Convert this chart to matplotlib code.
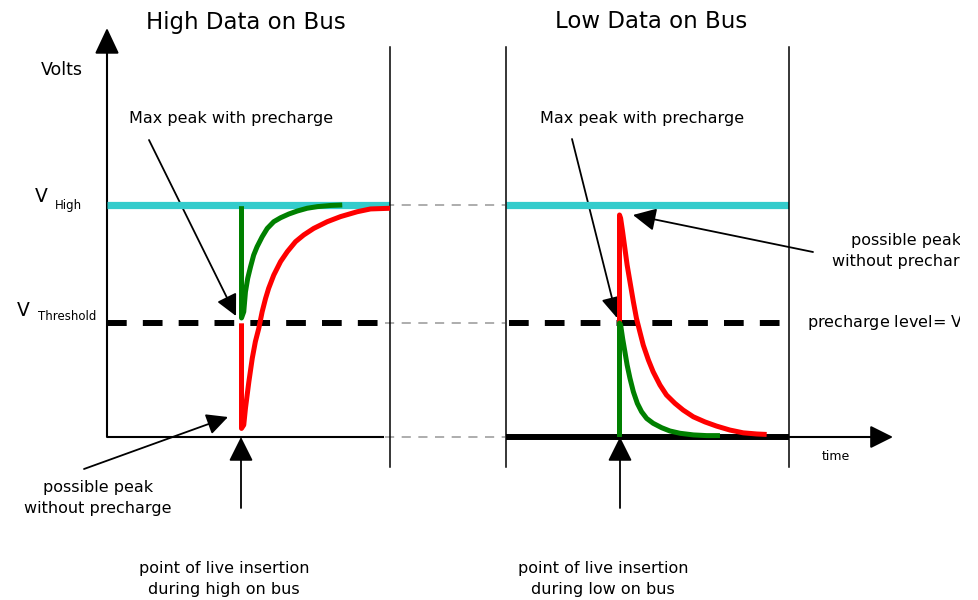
import matplotlib
matplotlib.use("Agg")
import matplotlib.pyplot as plt

plt.rcParams['font.family'] = ['DejaVu Sans']

# ---------------- data (time units relative to insertion, volts normalised: 0 = low, 1 = V_high)
V_HIGH = 1.0
V_THRESH = 0.49
V_LOW = 0.0

# High data on bus
hi_green_t = [0.0, 0.0, 0.08, 0.14, 0.22, 0.32, 0.43, 0.55, 0.73, 0.91, 1.14, 1.38, 1.67,
              1.97, 2.32, 2.68, 3.15, 3.56]
hi_green_v = [0.995, 0.513, 0.540, 0.626, 0.684, 0.734, 0.784, 0.820, 0.863, 0.899, 0.928,
              0.945, 0.961, 0.974, 0.986, 0.993, 0.998, 1.0]
hi_red_t = [0.0, 0.0, 0.08, 0.14, 0.26, 0.38, 0.49, 0.61, 0.73, 0.85, 0.96, 1.14, 1.38, 1.62,
            1.91, 2.20, 2.55, 3.03, 3.50, 4.09, 4.56, 5.27]
hi_red_v = [0.49, 0.037, 0.052, 0.124, 0.238, 0.339, 0.411, 0.468, 0.540, 0.597, 0.641, 0.698,
            0.756, 0.799, 0.842, 0.871, 0.899, 0.928, 0.950, 0.971, 0.983, 0.986]

# Low data on bus
lo_red_t = [0.0, 0.0, 0.04, 0.11, 0.19, 0.27, 0.37, 0.49, 0.60, 0.72, 0.84, 1.02, 1.19, 1.43,
            1.66, 1.96, 2.25, 2.61, 3.02, 3.43, 3.90, 4.37, 4.85, 5.20]
lo_red_v = [0.49, 0.957, 0.943, 0.885, 0.813, 0.741, 0.669, 0.583, 0.511, 0.453, 0.396, 0.332,
            0.281, 0.224, 0.181, 0.145, 0.116, 0.087, 0.065, 0.047, 0.030, 0.018, 0.013, 0.011]
lo_green_t = [0.0, 0.0, 0.04, 0.11, 0.19, 0.27, 0.37, 0.49, 0.63, 0.78, 0.96, 1.19, 1.49, 1.78,
              2.14, 2.61, 3.08, 3.55]
lo_green_v = [0.0, 0.491, 0.483, 0.425, 0.368, 0.310, 0.253, 0.195, 0.145, 0.109, 0.080, 0.059,
              0.040, 0.026, 0.016, 0.009, 0.006, 0.006]

titles = ["High Data on Bus", "Low Data on Bus"]

RED = '#ff0000'
GREEN = '#008000'
CYAN = '#33cccc'
GRAY = '#a0a0a0'

W, H = 979, 600
fig = plt.figure(figsize=(W / 100, H / 100), dpi=100)

# canvas axes in pixel coordinates (clipped at x=960 like the reference)
cv = fig.add_axes([0, 0, 960 / W, 1])
cv.set_xlim(0, 960)
cv.set_ylim(H, 0)
cv.axis('off')

PX_PER_T = 28.3
PX_PER_V = 232.0
Y0 = 437  # pixel row of 0 V


def panel(x_left, x_right, x_ins):
    ax = fig.add_axes([x_left / W, (H - 467) / H, (x_right - x_left) / W, 420 / H])
    ax.set_xlim((x_left - x_ins) / PX_PER_T, (x_right - x_ins) / PX_PER_T)
    ax.set_ylim((Y0 - 467) / PX_PER_V, (Y0 - 47) / PX_PER_V)
    ax.set_xticks([])
    ax.set_yticks([])
    ax.patch.set_alpha(0)
    for s in ['top', 'bottom']:
        ax.spines[s].set_visible(False)
    for s in ['left', 'right']:
        ax.spines[s].set_linewidth(1.1)
    return ax


XL_INS, XR_INS = 241.5, 619.5
axL = panel(107, 390, XL_INS)
axR = panel(506, 789, XR_INS)
axL.spines['left'].set_visible(False)

curve_kw = dict(lw=3.6, solid_capstyle='butt', solid_joinstyle='round')
dash_kw = dict(color='black', lw=4.3, linestyle=(0, (3.3, 2.7)), solid_capstyle='butt',
               dash_capstyle='butt')

# ---- left panel
x0, x1 = axL.get_xlim()
axL.plot([x0, x1], [V_HIGH, V_HIGH], color=CYAN, lw=5.2, solid_capstyle='butt', zorder=2)
axL.plot([x0, (380 - XL_INS) / PX_PER_T], [V_THRESH, V_THRESH], zorder=3, **dash_kw)
axL.plot([x0, (383 - XL_INS) / PX_PER_T], [V_LOW, V_LOW], color='black', lw=1.5, zorder=2)
axL.plot(hi_green_t, hi_green_v, color=GREEN, zorder=4, **curve_kw)
axL.plot(hi_red_t, hi_red_v, color=RED, zorder=4, **curve_kw)
for v in [V_HIGH, V_THRESH, V_LOW]:
    axL.plot([(385 - XL_INS) / PX_PER_T, (505 - XL_INS) / PX_PER_T], [v, v], color=GRAY, lw=1.2,
             linestyle=(0, (5.5, 4.5)), clip_on=False, zorder=1)

# ---- right panel
x0, x1 = axR.get_xlim()
axR.plot([x0, x1], [V_HIGH, V_HIGH], color=CYAN, lw=5.2, solid_capstyle='butt', zorder=2)
axR.plot([(509 - XR_INS) / PX_PER_T, (781 - XR_INS) / PX_PER_T], [V_THRESH, V_THRESH], zorder=3,
         **dash_kw)
axR.plot([x0, x1], [V_LOW, V_LOW], color='black', lw=4.3, solid_capstyle='butt', zorder=3)
axR.plot(lo_red_t, lo_red_v, color=RED, zorder=4, **curve_kw)
axR.plot(lo_green_t, lo_green_v, color=GREEN, zorder=5, **curve_kw)
axR.annotate('', xy=((893 - XR_INS) / PX_PER_T, V_LOW), xytext=(x1, V_LOW),
             arrowprops=dict(arrowstyle='-|>,head_length=1.0,head_width=0.5', mutation_scale=14,
                             lw=1.5, color='black', shrinkA=0, shrinkB=0),
             annotation_clip=False)


# ---- arrows on canvas
def arrow(tip, tail, ms=13, hl=1.0, hw=0.5, lw=1.3):
    cv.annotate('', xy=tip, xytext=tail,
                arrowprops=dict(arrowstyle=f'-|>,head_length={hl},head_width={hw}',
                                mutation_scale=ms, lw=lw, color='black',
                                shrinkA=0, shrinkB=0))


arrow((107, 28), (107, 437), ms=16, hl=1.0, hw=0.47, lw=1.5)
arrow((236, 316), (149, 140))
arrow((617, 318), (572, 139))
arrow((228, 417), (84, 469))
arrow((633, 215), (813, 252), ms=14)
arrow((241, 437), (241, 508), ms=15, hl=1.0, hw=0.5)
arrow((620, 437), (620, 508), ms=15, hl=1.0, hw=0.5)

# ---- texts
fs = 11.5
cv.text(246, 22, titles[0], fontsize=16.5, ha='center', va='center')
cv.text(651, 22, titles[1], fontsize=16.5, ha='center', va='center')
cv.text(62, 70, "Volts", fontsize=12.5, ha='center', va='center')
cv.text(41, 197, "V", fontsize=13.5, ha='center', va='center')
cv.text(55, 205, "High", fontsize=8.5, ha='left', va='center')
cv.text(23, 310, "V", fontsize=13.5, ha='center', va='center')
cv.text(38, 317, "Threshold", fontsize=8.5, ha='left', va='center')
cv.text(231, 118, "Max peak with precharge", fontsize=fs, ha='center', va='center')
cv.text(642, 119, "Max peak with precharge", fontsize=fs, ha='center', va='center')
cv.text(98, 498, "possible peak\nwithout precharge", fontsize=fs, ha='center', va='center',
        linespacing=1.45)
cv.text(224, 579, "point of live insertion\nduring high on bus", fontsize=fs, ha='center',
        va='center', linespacing=1.45)
cv.text(603, 579, "point of live insertion\nduring low on bus", fontsize=fs, ha='center',
        va='center', linespacing=1.45)
cv.text(836, 457, "time", fontsize=9, ha='center', va='center')
cv.text(906, 251, "possible peak\nwithout precharge", fontsize=fs, ha='center', va='center',
        linespacing=1.45, clip_on=True)
cv.text(807, 323, "precharge level= V$_{Threshold}$", fontsize=fs, ha='left', va='center',
        clip_on=True)

fig.savefig("out.png", dpi=100, facecolor='white')
